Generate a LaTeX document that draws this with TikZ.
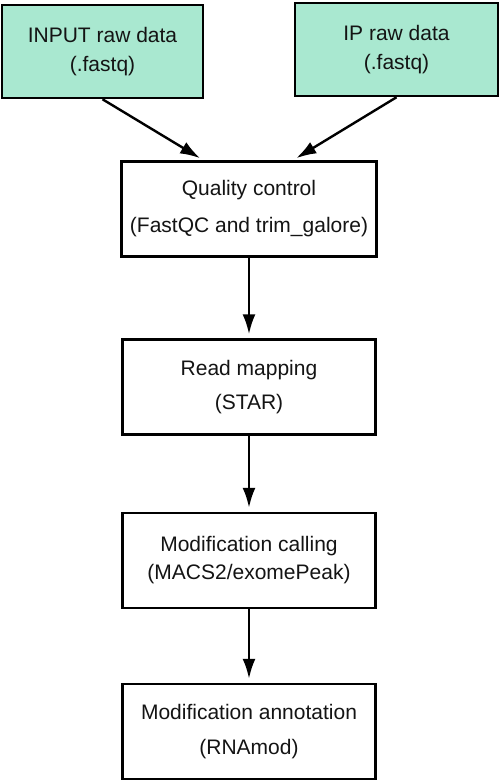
\documentclass[tikz,border=0pt]{standalone}
\usepackage{fontspec}
\setmainfont{Liberation Sans}
\usetikzlibrary{arrows.meta}

\definecolor{mintfill}{RGB}{169,232,208}
\definecolor{boxtext}{RGB}{20,20,20}

\tikzset{
    databox/.style={draw, line width=2.5pt, fill=mintfill, minimum width=201pt, minimum height=93pt,
        align=center, text=boxtext, font=\fontsize{21}{29}\selectfont},
    stepbox/.style={draw, line width=2.5pt, fill=white, minimum width=253pt, minimum height=95pt,
        align=center, text=boxtext, font=\fontsize{21}{29}\selectfont},
    flow/.style={-{Latex[length=20pt,width=13pt]}, line width=2.4pt, shorten >=4pt}
}

\begin{document}
\begin{tikzpicture}[x=1pt, y=-1pt]
    \useasboundingbox (0,0) rectangle (500,781);

    % Define the centres of the boxes
    \coordinate (P1) at (102.5,51.5);
    \coordinate (P2) at (396.5,49.5);
    \coordinate (P3) at (249,209);
    \coordinate (P4) at (249,387);
    \coordinate (P5) at (249,560.5);
    \coordinate (P6) at (249,731.5);

    % Draw the raw data boxes
    \node[databox] (inp) at (P1) {INPUT raw data\\(.fastq)};
    \node[databox, minimum width=203pt] (ip) at (P2) {IP raw data\\(.fastq)};

    % Draw the pipeline steps
    \node[stepbox, minimum width=255pt] (qc) at (P3) {Quality control\\[8pt](FastQC and trim\_galore)};
    \node[stepbox] (map) at (P4) {Read mapping\\[5pt](STAR)};
    \node[stepbox] (call) at (P5) {Modification calling\\[-1pt](MACS2/exomePeak)};
    \node[stepbox] (annot) at (P6) {Modification annotation\\[6pt](RNAmod)};

    % Draw the arrows
    \draw[flow] (inp.south) -- (qc.133);
    \draw[flow] (ip.south) -- (qc.48);
    \draw[flow] (qc.south) -- (map.north);
    \draw[flow] (map.south) -- (call.north);
    \draw[flow] (call.south) -- (annot.north);

\end{tikzpicture}
\end{document}
